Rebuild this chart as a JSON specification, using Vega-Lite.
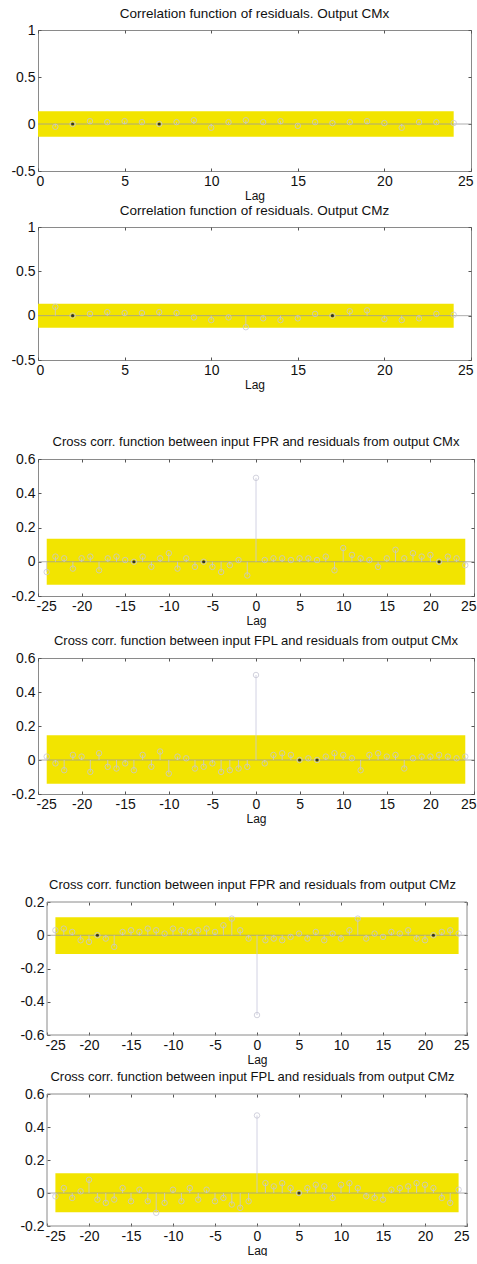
{
"$schema": "https://vega.github.io/schema/vega-lite/v6.json",
"background": "white",
"padding": {"left": 0, "top": 6, "right": 0, "bottom": 0},
"config": {
  "view": {"stroke": "#8a8a8a", "strokeWidth": 1},
  "title": {"font": "Liberation Sans", "fontSize": 13, "fontWeight": "normal", "color": "#111", "offset": 3},
  "axis": {"labelFont": "Liberation Sans", "labelFontSize": 14, "labelColor": "#111", "labelOverlap": false, "labelFlush": false, "titleFont": "Liberation Sans", "titleFontSize": 12, "titleFontWeight": "normal", "titleColor": "#111", "grid": false, "domain": false, "tickColor": "#555", "tickSize": -3, "labelPadding": 6, "titlePadding": 2, "labelExpr": "datum.value < 0 ? '-' + format(-datum.value, '~g') : format(datum.value, '~g')"},
  "axisX": {"labelFlush": true, "labelFlushOffset": 2}
},
"datasets": {
  "acf": [
    {"p":1,"lag":1,"r":-0.03,"d":0},{"p":1,"lag":2,"r":0.0,"d":1},{"p":1,"lag":3,"r":0.03,"d":0},{"p":1,"lag":4,"r":0.02,"d":0},{"p":1,"lag":5,"r":0.03,"d":0},{"p":1,"lag":6,"r":0.02,"d":0},{"p":1,"lag":7,"r":0.0,"d":1},{"p":1,"lag":8,"r":0.02,"d":0},{"p":1,"lag":9,"r":0.04,"d":0},{"p":1,"lag":10,"r":-0.04,"d":0},{"p":1,"lag":11,"r":0.02,"d":0},{"p":1,"lag":12,"r":0.04,"d":0},{"p":1,"lag":13,"r":0.02,"d":0},{"p":1,"lag":14,"r":0.03,"d":0},{"p":1,"lag":15,"r":-0.02,"d":0},{"p":1,"lag":16,"r":0.02,"d":0},{"p":1,"lag":17,"r":0.01,"d":0},{"p":1,"lag":18,"r":0.02,"d":0},{"p":1,"lag":19,"r":0.03,"d":0},{"p":1,"lag":20,"r":0.01,"d":0},{"p":1,"lag":21,"r":-0.04,"d":0},{"p":1,"lag":22,"r":0.02,"d":0},{"p":1,"lag":23,"r":0.02,"d":0},{"p":1,"lag":24,"r":0.01,"d":0},
    {"p":2,"lag":1,"r":0.1,"d":0},{"p":2,"lag":2,"r":0.0,"d":1},{"p":2,"lag":3,"r":0.02,"d":0},{"p":2,"lag":4,"r":0.04,"d":0},{"p":2,"lag":5,"r":0.03,"d":0},{"p":2,"lag":6,"r":0.03,"d":0},{"p":2,"lag":7,"r":0.04,"d":0},{"p":2,"lag":8,"r":0.03,"d":0},{"p":2,"lag":9,"r":-0.02,"d":0},{"p":2,"lag":10,"r":-0.05,"d":0},{"p":2,"lag":11,"r":-0.02,"d":0},{"p":2,"lag":12,"r":-0.13,"d":0},{"p":2,"lag":13,"r":-0.03,"d":0},{"p":2,"lag":14,"r":-0.05,"d":0},{"p":2,"lag":15,"r":-0.03,"d":0},{"p":2,"lag":16,"r":0.02,"d":0},{"p":2,"lag":17,"r":0.0,"d":1},{"p":2,"lag":18,"r":0.05,"d":0},{"p":2,"lag":19,"r":0.06,"d":0},{"p":2,"lag":20,"r":-0.04,"d":0},{"p":2,"lag":21,"r":-0.05,"d":0},{"p":2,"lag":22,"r":-0.03,"d":0},{"p":2,"lag":23,"r":0.02,"d":0},{"p":2,"lag":24,"r":0.01,"d":0},
    {"p":3,"lag":-24,"r":-0.06,"d":0},{"p":3,"lag":-23,"r":0.03,"d":0},{"p":3,"lag":-22,"r":0.02,"d":0},{"p":3,"lag":-21,"r":-0.04,"d":0},{"p":3,"lag":-20,"r":0.02,"d":0},{"p":3,"lag":-19,"r":0.03,"d":0},{"p":3,"lag":-18,"r":-0.05,"d":0},{"p":3,"lag":-17,"r":0.02,"d":0},{"p":3,"lag":-16,"r":0.03,"d":0},{"p":3,"lag":-15,"r":0.01,"d":0},{"p":3,"lag":-14,"r":0.0,"d":1},{"p":3,"lag":-13,"r":0.03,"d":0},{"p":3,"lag":-12,"r":-0.03,"d":0},{"p":3,"lag":-11,"r":0.02,"d":0},{"p":3,"lag":-10,"r":0.05,"d":0},{"p":3,"lag":-9,"r":-0.04,"d":0},{"p":3,"lag":-8,"r":0.02,"d":0},{"p":3,"lag":-7,"r":-0.03,"d":0},{"p":3,"lag":-6,"r":0.0,"d":1},{"p":3,"lag":-5,"r":-0.03,"d":0},{"p":3,"lag":-4,"r":-0.06,"d":0},{"p":3,"lag":-3,"r":-0.02,"d":0},{"p":3,"lag":-2,"r":0.01,"d":0},{"p":3,"lag":-1,"r":-0.08,"d":0},{"p":3,"lag":0,"r":0.49,"d":0},{"p":3,"lag":1,"r":0.01,"d":0},{"p":3,"lag":2,"r":0.02,"d":0},{"p":3,"lag":3,"r":0.02,"d":0},{"p":3,"lag":4,"r":0.01,"d":0},{"p":3,"lag":5,"r":0.02,"d":0},{"p":3,"lag":6,"r":0.02,"d":0},{"p":3,"lag":7,"r":0.01,"d":0},{"p":3,"lag":8,"r":0.03,"d":0},{"p":3,"lag":9,"r":-0.05,"d":0},{"p":3,"lag":10,"r":0.08,"d":0},{"p":3,"lag":11,"r":0.04,"d":0},{"p":3,"lag":12,"r":0.02,"d":0},{"p":3,"lag":13,"r":0.01,"d":0},{"p":3,"lag":14,"r":-0.03,"d":0},{"p":3,"lag":15,"r":0.02,"d":0},{"p":3,"lag":16,"r":0.07,"d":0},{"p":3,"lag":17,"r":0.02,"d":0},{"p":3,"lag":18,"r":0.05,"d":0},{"p":3,"lag":19,"r":0.03,"d":0},{"p":3,"lag":20,"r":0.04,"d":0},{"p":3,"lag":21,"r":0.0,"d":1},{"p":3,"lag":22,"r":0.03,"d":0},{"p":3,"lag":23,"r":0.02,"d":0},{"p":3,"lag":24,"r":-0.02,"d":0},
    {"p":4,"lag":-24,"r":0.02,"d":0},{"p":4,"lag":-23,"r":-0.02,"d":0},{"p":4,"lag":-22,"r":-0.06,"d":0},{"p":4,"lag":-21,"r":0.03,"d":0},{"p":4,"lag":-20,"r":0.02,"d":0},{"p":4,"lag":-19,"r":-0.07,"d":0},{"p":4,"lag":-18,"r":0.04,"d":0},{"p":4,"lag":-17,"r":-0.04,"d":0},{"p":4,"lag":-16,"r":-0.05,"d":0},{"p":4,"lag":-15,"r":-0.02,"d":0},{"p":4,"lag":-14,"r":-0.06,"d":0},{"p":4,"lag":-13,"r":0.03,"d":0},{"p":4,"lag":-12,"r":-0.04,"d":0},{"p":4,"lag":-11,"r":0.05,"d":0},{"p":4,"lag":-10,"r":-0.08,"d":0},{"p":4,"lag":-9,"r":0.02,"d":0},{"p":4,"lag":-8,"r":0.01,"d":0},{"p":4,"lag":-7,"r":-0.05,"d":0},{"p":4,"lag":-6,"r":-0.04,"d":0},{"p":4,"lag":-5,"r":-0.02,"d":0},{"p":4,"lag":-4,"r":-0.07,"d":0},{"p":4,"lag":-3,"r":-0.06,"d":0},{"p":4,"lag":-2,"r":-0.05,"d":0},{"p":4,"lag":-1,"r":-0.04,"d":0},{"p":4,"lag":0,"r":0.5,"d":0},{"p":4,"lag":1,"r":-0.02,"d":0},{"p":4,"lag":2,"r":0.03,"d":0},{"p":4,"lag":3,"r":0.04,"d":0},{"p":4,"lag":4,"r":0.03,"d":0},{"p":4,"lag":5,"r":0.0,"d":1},{"p":4,"lag":6,"r":0.01,"d":0},{"p":4,"lag":7,"r":0.0,"d":1},{"p":4,"lag":8,"r":0.02,"d":0},{"p":4,"lag":9,"r":0.04,"d":0},{"p":4,"lag":10,"r":0.03,"d":0},{"p":4,"lag":11,"r":0.01,"d":0},{"p":4,"lag":12,"r":-0.06,"d":0},{"p":4,"lag":13,"r":0.03,"d":0},{"p":4,"lag":14,"r":0.04,"d":0},{"p":4,"lag":15,"r":0.02,"d":0},{"p":4,"lag":16,"r":0.03,"d":0},{"p":4,"lag":17,"r":-0.05,"d":0},{"p":4,"lag":18,"r":0.01,"d":0},{"p":4,"lag":19,"r":0.02,"d":0},{"p":4,"lag":20,"r":0.02,"d":0},{"p":4,"lag":21,"r":0.03,"d":0},{"p":4,"lag":22,"r":0.02,"d":0},{"p":4,"lag":23,"r":0.01,"d":0},{"p":4,"lag":24,"r":0.02,"d":0},
    {"p":5,"lag":-24,"r":0.03,"d":0},{"p":5,"lag":-23,"r":0.04,"d":0},{"p":5,"lag":-22,"r":0.02,"d":0},{"p":5,"lag":-21,"r":-0.03,"d":0},{"p":5,"lag":-20,"r":-0.04,"d":0},{"p":5,"lag":-19,"r":0.0,"d":1},{"p":5,"lag":-18,"r":-0.02,"d":0},{"p":5,"lag":-17,"r":-0.07,"d":0},{"p":5,"lag":-16,"r":0.02,"d":0},{"p":5,"lag":-15,"r":0.03,"d":0},{"p":5,"lag":-14,"r":0.02,"d":0},{"p":5,"lag":-13,"r":0.04,"d":0},{"p":5,"lag":-12,"r":0.03,"d":0},{"p":5,"lag":-11,"r":0.01,"d":0},{"p":5,"lag":-10,"r":0.04,"d":0},{"p":5,"lag":-9,"r":0.03,"d":0},{"p":5,"lag":-8,"r":0.02,"d":0},{"p":5,"lag":-7,"r":0.03,"d":0},{"p":5,"lag":-6,"r":0.04,"d":0},{"p":5,"lag":-5,"r":0.02,"d":0},{"p":5,"lag":-4,"r":0.06,"d":0},{"p":5,"lag":-3,"r":0.1,"d":0},{"p":5,"lag":-2,"r":0.03,"d":0},{"p":5,"lag":-1,"r":-0.02,"d":0},{"p":5,"lag":0,"r":-0.48,"d":0},{"p":5,"lag":1,"r":-0.03,"d":0},{"p":5,"lag":2,"r":-0.02,"d":0},{"p":5,"lag":3,"r":-0.03,"d":0},{"p":5,"lag":4,"r":-0.01,"d":0},{"p":5,"lag":5,"r":0.01,"d":0},{"p":5,"lag":6,"r":-0.02,"d":0},{"p":5,"lag":7,"r":0.02,"d":0},{"p":5,"lag":8,"r":-0.03,"d":0},{"p":5,"lag":9,"r":0.01,"d":0},{"p":5,"lag":10,"r":-0.02,"d":0},{"p":5,"lag":11,"r":0.03,"d":0},{"p":5,"lag":12,"r":0.1,"d":0},{"p":5,"lag":13,"r":-0.02,"d":0},{"p":5,"lag":14,"r":0.01,"d":0},{"p":5,"lag":15,"r":-0.01,"d":0},{"p":5,"lag":16,"r":0.02,"d":0},{"p":5,"lag":17,"r":0.01,"d":0},{"p":5,"lag":18,"r":0.03,"d":0},{"p":5,"lag":19,"r":-0.02,"d":0},{"p":5,"lag":20,"r":-0.03,"d":0},{"p":5,"lag":21,"r":0.0,"d":1},{"p":5,"lag":22,"r":0.02,"d":0},{"p":5,"lag":23,"r":0.03,"d":0},{"p":5,"lag":24,"r":0.01,"d":0},
    {"p":6,"lag":-24,"r":-0.02,"d":0},{"p":6,"lag":-23,"r":0.03,"d":0},{"p":6,"lag":-22,"r":-0.03,"d":0},{"p":6,"lag":-21,"r":0.01,"d":0},{"p":6,"lag":-20,"r":0.08,"d":0},{"p":6,"lag":-19,"r":-0.04,"d":0},{"p":6,"lag":-18,"r":-0.06,"d":0},{"p":6,"lag":-17,"r":-0.04,"d":0},{"p":6,"lag":-16,"r":0.03,"d":0},{"p":6,"lag":-15,"r":-0.05,"d":0},{"p":6,"lag":-14,"r":0.02,"d":0},{"p":6,"lag":-13,"r":-0.05,"d":0},{"p":6,"lag":-12,"r":-0.12,"d":0},{"p":6,"lag":-11,"r":-0.06,"d":0},{"p":6,"lag":-10,"r":0.02,"d":0},{"p":6,"lag":-9,"r":-0.05,"d":0},{"p":6,"lag":-8,"r":0.03,"d":0},{"p":6,"lag":-7,"r":-0.04,"d":0},{"p":6,"lag":-6,"r":0.02,"d":0},{"p":6,"lag":-5,"r":-0.05,"d":0},{"p":6,"lag":-4,"r":-0.03,"d":0},{"p":6,"lag":-3,"r":-0.07,"d":0},{"p":6,"lag":-2,"r":-0.09,"d":0},{"p":6,"lag":-1,"r":-0.05,"d":0},{"p":6,"lag":0,"r":0.47,"d":0},{"p":6,"lag":1,"r":0.06,"d":0},{"p":6,"lag":2,"r":0.04,"d":0},{"p":6,"lag":3,"r":0.06,"d":0},{"p":6,"lag":4,"r":0.03,"d":0},{"p":6,"lag":5,"r":0.0,"d":1},{"p":6,"lag":6,"r":0.03,"d":0},{"p":6,"lag":7,"r":0.05,"d":0},{"p":6,"lag":8,"r":0.04,"d":0},{"p":6,"lag":9,"r":-0.03,"d":0},{"p":6,"lag":10,"r":0.05,"d":0},{"p":6,"lag":11,"r":0.06,"d":0},{"p":6,"lag":12,"r":0.03,"d":0},{"p":6,"lag":13,"r":-0.02,"d":0},{"p":6,"lag":14,"r":-0.03,"d":0},{"p":6,"lag":15,"r":-0.04,"d":0},{"p":6,"lag":16,"r":0.02,"d":0},{"p":6,"lag":17,"r":0.03,"d":0},{"p":6,"lag":18,"r":0.04,"d":0},{"p":6,"lag":19,"r":0.06,"d":0},{"p":6,"lag":20,"r":0.05,"d":0},{"p":6,"lag":21,"r":0.03,"d":0},{"p":6,"lag":22,"r":-0.03,"d":0},{"p":6,"lag":23,"r":-0.06,"d":0},{"p":6,"lag":24,"r":0.02,"d":0}
  ]
},
"columns": 1,
"align": "none",
"spacing": 44,
"concat": [
 {"columns": 1, "align": "none", "spacing": 1, "concat": [
  {"width": 433, "height": 141, "title": {"text": "Correlation function of residuals. Output CMx", "fontSize": 13.5},
   "resolve": {"axis": {"x": "independent", "y": "independent"}},
   "layer": [
    {"data": {"values": [{"x1": 0, "x2": 24, "y1": -0.135, "y2": 0.135}]}, "mark": {"type": "rect", "color": "#f2e400"},
     "encoding": {"x": {"field": "x1", "type": "quantitative", "title": "Lag", "scale": {"domain": [0, 25], "nice": false}, "axis": {"values": [0, 5, 10, 15, 20, 25], "tickCount": 12, "labelOverlap": false}}, "x2": {"field": "x2"},
      "y": {"field": "y1", "type": "quantitative", "title": null, "scale": {"domain": [-0.5, 1], "nice": false}, "axis": {"values": [-0.5, 0, 0.5, 1], "tickCount": 10, "minExtent": 37.5, "labelOverlap": false, "title": null}}, "y2": {"field": "y2"}}},
    {"data": {"values": [{"z": 0}]}, "mark": {"type": "rule", "color": "#9a9a9a", "strokeWidth": 0.8}, "encoding": {"y": {"datum": 0, "type": "quantitative", "axis": null}}},
    {"data": {"name": "acf"}, "transform": [{"filter": "datum.p == 1"}], "mark": {"type": "rule", "color": "#c6c6dc", "strokeWidth": 0.8},
     "encoding": {"x": {"field": "lag", "type": "quantitative", "axis": null}, "y": {"field": "r", "type": "quantitative", "axis": null}, "y2": {"datum": 0}}},
    {"data": {"name": "acf"}, "transform": [{"filter": "datum.p == 1"}], "mark": {"type": "point", "shape": "circle", "filled": false, "color": "#c6c6d4", "size": 30, "strokeWidth": 0.8, "opacity": 1},
     "encoding": {"x": {"field": "lag", "type": "quantitative", "axis": null}, "y": {"field": "r", "type": "quantitative", "axis": null}}},
    {"data": {"name": "acf"}, "transform": [{"filter": "datum.p == 1 && datum.d == 1"}], "mark": {"type": "point", "shape": "circle", "filled": true, "color": "#303030", "size": 10, "opacity": 1},
     "encoding": {"x": {"field": "lag", "type": "quantitative", "axis": null}, "y": {"field": "r", "type": "quantitative", "axis": null}}},
    {"data": {"values": [{"a": 0, "b": 25, "c": -0.5, "e": 1}]}, "mark": {"type": "rect", "filled": false, "strokeOpacity": 0},
     "encoding": {"x": {"field": "a", "type": "quantitative", "axis": {"orient": "top", "labels": false, "title": null, "values": [0, 5, 10, 15, 20, 25], "tickCount": 12, "minExtent": 0, "maxExtent": 0}}, "x2": {"field": "b"},
      "y": {"field": "c", "type": "quantitative", "axis": {"orient": "right", "labels": false, "title": null, "values": [-0.5, 0, 0.5, 1], "tickCount": 10, "minExtent": 0, "maxExtent": 0}}, "y2": {"field": "e"}}}
   ]},
  {"width": 433, "height": 133, "title": {"text": "Correlation function of residuals. Output CMz", "fontSize": 13.5},
   "resolve": {"axis": {"x": "independent", "y": "independent"}},
   "layer": [
    {"data": {"values": [{"x1": 0, "x2": 24, "y1": -0.135, "y2": 0.135}]}, "mark": {"type": "rect", "color": "#f2e400"},
     "encoding": {"x": {"field": "x1", "type": "quantitative", "title": "Lag", "scale": {"domain": [0, 25], "nice": false}, "axis": {"values": [0, 5, 10, 15, 20, 25], "tickCount": 12, "labelOverlap": false}}, "x2": {"field": "x2"},
      "y": {"field": "y1", "type": "quantitative", "title": null, "scale": {"domain": [-0.5, 1], "nice": false}, "axis": {"values": [-0.5, 0, 0.5, 1], "tickCount": 10, "minExtent": 37.5, "labelOverlap": false, "title": null}}, "y2": {"field": "y2"}}},
    {"data": {"values": [{"z": 0}]}, "mark": {"type": "rule", "color": "#9a9a9a", "strokeWidth": 0.8}, "encoding": {"y": {"datum": 0, "type": "quantitative", "axis": null}}},
    {"data": {"name": "acf"}, "transform": [{"filter": "datum.p == 2"}], "mark": {"type": "rule", "color": "#c6c6dc", "strokeWidth": 0.8},
     "encoding": {"x": {"field": "lag", "type": "quantitative", "axis": null}, "y": {"field": "r", "type": "quantitative", "axis": null}, "y2": {"datum": 0}}},
    {"data": {"name": "acf"}, "transform": [{"filter": "datum.p == 2"}], "mark": {"type": "point", "shape": "circle", "filled": false, "color": "#c6c6d4", "size": 30, "strokeWidth": 0.8, "opacity": 1},
     "encoding": {"x": {"field": "lag", "type": "quantitative", "axis": null}, "y": {"field": "r", "type": "quantitative", "axis": null}}},
    {"data": {"name": "acf"}, "transform": [{"filter": "datum.p == 2 && datum.d == 1"}], "mark": {"type": "point", "shape": "circle", "filled": true, "color": "#303030", "size": 10, "opacity": 1},
     "encoding": {"x": {"field": "lag", "type": "quantitative", "axis": null}, "y": {"field": "r", "type": "quantitative", "axis": null}}},
    {"data": {"values": [{"a": 0, "b": 25, "c": -0.5, "e": 1}]}, "mark": {"type": "rect", "filled": false, "strokeOpacity": 0},
     "encoding": {"x": {"field": "a", "type": "quantitative", "axis": {"orient": "top", "labels": false, "title": null, "values": [0, 5, 10, 15, 20, 25], "tickCount": 12, "minExtent": 0, "maxExtent": 0}}, "x2": {"field": "b"},
      "y": {"field": "c", "type": "quantitative", "axis": {"orient": "right", "labels": false, "title": null, "values": [-0.5, 0, 0.5, 1], "tickCount": 10, "minExtent": 0, "maxExtent": 0}}, "y2": {"field": "e"}}}
   ]}
 ]},
 {"columns": 1, "align": "none", "spacing": 54, "concat": [
  {"columns": 1, "align": "none", "spacing": 7, "concat": [
   {"width": 436, "height": 137, "title": "Cross corr. function between input FPR and residuals from output CMx",
    "resolve": {"axis": {"x": "independent", "y": "independent"}},
    "layer": [
     {"data": {"values": [{"x1": -24, "x2": 24, "y1": -0.135, "y2": 0.135}]}, "mark": {"type": "rect", "color": "#f2e400"},
      "encoding": {"x": {"field": "x1", "type": "quantitative", "title": "Lag", "scale": {"domain": [-25, 25], "nice": false}, "axis": {"values": [-25, -20, -15, -10, -5, 0, 5, 10, 15, 20, 25], "tickCount": 12, "labelOverlap": false}}, "x2": {"field": "x2"},
       "y": {"field": "y1", "type": "quantitative", "title": null, "scale": {"domain": [-0.2, 0.6], "nice": false}, "axis": {"values": [-0.2, 0, 0.2, 0.4, 0.6], "tickCount": 10, "minExtent": 37.5, "labelOverlap": false, "title": null}}, "y2": {"field": "y2"}}},
     {"data": {"values": [{"z": 0}]}, "mark": {"type": "rule", "color": "#9a9a9a", "strokeWidth": 0.8}, "encoding": {"y": {"datum": 0, "type": "quantitative", "axis": null}}},
     {"data": {"name": "acf"}, "transform": [{"filter": "datum.p == 3"}], "mark": {"type": "rule", "color": "#c6c6dc", "strokeWidth": 0.8},
      "encoding": {"x": {"field": "lag", "type": "quantitative", "axis": null}, "y": {"field": "r", "type": "quantitative", "axis": null}, "y2": {"datum": 0}}},
     {"data": {"name": "acf"}, "transform": [{"filter": "datum.p == 3"}], "mark": {"type": "point", "shape": "circle", "filled": false, "color": "#c6c6d4", "size": 30, "strokeWidth": 0.8, "opacity": 1},
      "encoding": {"x": {"field": "lag", "type": "quantitative", "axis": null}, "y": {"field": "r", "type": "quantitative", "axis": null}}},
     {"data": {"name": "acf"}, "transform": [{"filter": "datum.p == 3 && datum.d == 1"}], "mark": {"type": "point", "shape": "circle", "filled": true, "color": "#303030", "size": 10, "opacity": 1},
      "encoding": {"x": {"field": "lag", "type": "quantitative", "axis": null}, "y": {"field": "r", "type": "quantitative", "axis": null}}},
     {"data": {"values": [{"a": -25, "b": 25, "c": -0.2, "e": 0.6}]}, "mark": {"type": "rect", "filled": false, "strokeOpacity": 0},
      "encoding": {"x": {"field": "a", "type": "quantitative", "axis": {"orient": "top", "labels": false, "title": null, "values": [-25, -20, -15, -10, -5, 0, 5, 10, 15, 20, 25], "tickCount": 12, "minExtent": 0, "maxExtent": 0}}, "x2": {"field": "b"},
       "y": {"field": "c", "type": "quantitative", "axis": {"orient": "right", "labels": false, "title": null, "values": [-0.2, 0, 0.2, 0.4, 0.6], "tickCount": 10, "minExtent": 0, "maxExtent": 0}}, "y2": {"field": "e"}}}
    ]},
   {"width": 436, "height": 136, "title": "Cross corr. function between input FPL and residuals from output CMx",
    "resolve": {"axis": {"x": "independent", "y": "independent"}},
    "layer": [
     {"data": {"values": [{"x1": -24, "x2": 24, "y1": -0.14, "y2": 0.145}]}, "mark": {"type": "rect", "color": "#f2e400"},
      "encoding": {"x": {"field": "x1", "type": "quantitative", "title": "Lag", "scale": {"domain": [-25, 25], "nice": false}, "axis": {"values": [-25, -20, -15, -10, -5, 0, 5, 10, 15, 20, 25], "tickCount": 12, "labelOverlap": false}}, "x2": {"field": "x2"},
       "y": {"field": "y1", "type": "quantitative", "title": null, "scale": {"domain": [-0.2, 0.6], "nice": false}, "axis": {"values": [-0.2, 0, 0.2, 0.4, 0.6], "tickCount": 10, "minExtent": 37.5, "labelOverlap": false, "title": null}}, "y2": {"field": "y2"}}},
     {"data": {"values": [{"z": 0}]}, "mark": {"type": "rule", "color": "#9a9a9a", "strokeWidth": 0.8}, "encoding": {"y": {"datum": 0, "type": "quantitative", "axis": null}}},
     {"data": {"name": "acf"}, "transform": [{"filter": "datum.p == 4"}], "mark": {"type": "rule", "color": "#c6c6dc", "strokeWidth": 0.8},
      "encoding": {"x": {"field": "lag", "type": "quantitative", "axis": null}, "y": {"field": "r", "type": "quantitative", "axis": null}, "y2": {"datum": 0}}},
     {"data": {"name": "acf"}, "transform": [{"filter": "datum.p == 4"}], "mark": {"type": "point", "shape": "circle", "filled": false, "color": "#c6c6d4", "size": 30, "strokeWidth": 0.8, "opacity": 1},
      "encoding": {"x": {"field": "lag", "type": "quantitative", "axis": null}, "y": {"field": "r", "type": "quantitative", "axis": null}}},
     {"data": {"name": "acf"}, "transform": [{"filter": "datum.p == 4 && datum.d == 1"}], "mark": {"type": "point", "shape": "circle", "filled": true, "color": "#303030", "size": 10, "opacity": 1},
      "encoding": {"x": {"field": "lag", "type": "quantitative", "axis": null}, "y": {"field": "r", "type": "quantitative", "axis": null}}},
     {"data": {"values": [{"a": -25, "b": 25, "c": -0.2, "e": 0.6}]}, "mark": {"type": "rect", "filled": false, "strokeOpacity": 0},
      "encoding": {"x": {"field": "a", "type": "quantitative", "axis": {"orient": "top", "labels": false, "title": null, "values": [-25, -20, -15, -10, -5, 0, 5, 10, 15, 20, 25], "tickCount": 12, "minExtent": 0, "maxExtent": 0}}, "x2": {"field": "b"},
       "y": {"field": "c", "type": "quantitative", "axis": {"orient": "right", "labels": false, "title": null, "values": [-0.2, 0, 0.2, 0.4, 0.6], "tickCount": 10, "minExtent": 0, "maxExtent": 0}}, "y2": {"field": "e"}}}
    ]}
  ]},
  {"columns": 1, "align": "none", "spacing": 6, "concat": [
   {"width": 429, "height": 133, "view": {"stroke": null}, "title": "Cross corr. function between input FPR and residuals from output CMz",
    "resolve": {"axis": {"x": "independent", "y": "independent"}},
    "layer": [
     {"data": {"values": [{"x1": -24, "x2": 24, "y1": -0.113, "y2": 0.108}]}, "mark": {"type": "rect", "color": "#f2e400"},
      "encoding": {"x": {"field": "x1", "type": "quantitative", "title": "Lag", "scale": {"domain": [-25, 25], "nice": false, "range": [9, 429]}, "axis": {"values": [-25, -20, -15, -10, -5, 0, 5, 10, 15, 20, 25], "tickCount": 12, "labelOverlap": false}}, "x2": {"field": "x2"},
       "y": {"field": "y1", "type": "quantitative", "title": null, "scale": {"domain": [-0.6, 0.2], "nice": false}, "axis": {"values": [-0.6, -0.4, -0.2, 0, 0.2], "tickCount": 10, "minExtent": 37.5, "offset": -9, "labelOverlap": false, "title": null}}, "y2": {"field": "y2"}}},
     {"data": {"values": [{"a": -25, "b": 25}]}, "mark": {"type": "rule", "color": "#9a9a9a", "strokeWidth": 0.8}, "encoding": {"x": {"field": "a", "type": "quantitative", "axis": null}, "x2": {"field": "b"}, "y": {"datum": 0, "type": "quantitative", "axis": null}}},
     {"data": {"name": "acf"}, "transform": [{"filter": "datum.p == 5"}], "mark": {"type": "rule", "color": "#c6c6dc", "strokeWidth": 0.8},
      "encoding": {"x": {"field": "lag", "type": "quantitative", "axis": null}, "y": {"field": "r", "type": "quantitative", "axis": null}, "y2": {"datum": 0}}},
     {"data": {"name": "acf"}, "transform": [{"filter": "datum.p == 5"}], "mark": {"type": "point", "shape": "circle", "filled": false, "color": "#c6c6d4", "size": 30, "strokeWidth": 0.8, "opacity": 1},
      "encoding": {"x": {"field": "lag", "type": "quantitative", "axis": null}, "y": {"field": "r", "type": "quantitative", "axis": null}}},
     {"data": {"name": "acf"}, "transform": [{"filter": "datum.p == 5 && datum.d == 1"}], "mark": {"type": "point", "shape": "circle", "filled": true, "color": "#303030", "size": 10, "opacity": 1},
      "encoding": {"x": {"field": "lag", "type": "quantitative", "axis": null}, "y": {"field": "r", "type": "quantitative", "axis": null}}},
     {"data": {"values": [{"a": -25, "b": 25, "c": -0.6, "e": 0.2}]}, "mark": {"type": "rect", "filled": false, "stroke": "#8a8a8a", "strokeWidth": 1},
      "encoding": {"x": {"field": "a", "type": "quantitative", "axis": {"orient": "top", "labels": false, "title": null, "values": [-25, -20, -15, -10, -5, 0, 5, 10, 15, 20, 25], "tickCount": 12, "minExtent": 0, "maxExtent": 0}}, "x2": {"field": "b"},
       "y": {"field": "c", "type": "quantitative", "axis": {"orient": "right", "labels": false, "title": null, "values": [-0.6, -0.4, -0.2, 0, 0.2], "tickCount": 10, "minExtent": 0, "maxExtent": 0}}, "y2": {"field": "e"}}}
    ]},
   {"width": 429, "height": 132, "view": {"stroke": null}, "title": "Cross corr. function between input FPL and residuals from output CMz",
    "resolve": {"axis": {"x": "independent", "y": "independent"}},
    "layer": [
     {"data": {"values": [{"x1": -24, "x2": 24, "y1": -0.116, "y2": 0.12}]}, "mark": {"type": "rect", "color": "#f2e400"},
      "encoding": {"x": {"field": "x1", "type": "quantitative", "title": "Lag", "scale": {"domain": [-25, 25], "nice": false, "range": [9, 429]}, "axis": {"values": [-25, -20, -15, -10, -5, 0, 5, 10, 15, 20, 25], "tickCount": 12, "labelOverlap": false}}, "x2": {"field": "x2"},
       "y": {"field": "y1", "type": "quantitative", "title": null, "scale": {"domain": [-0.2, 0.6], "nice": false}, "axis": {"values": [-0.2, 0, 0.2, 0.4, 0.6], "tickCount": 10, "minExtent": 37.5, "offset": -9, "labelOverlap": false, "title": null}}, "y2": {"field": "y2"}}},
     {"data": {"values": [{"a": -25, "b": 25}]}, "mark": {"type": "rule", "color": "#9a9a9a", "strokeWidth": 0.8}, "encoding": {"x": {"field": "a", "type": "quantitative", "axis": null}, "x2": {"field": "b"}, "y": {"datum": 0, "type": "quantitative", "axis": null}}},
     {"data": {"name": "acf"}, "transform": [{"filter": "datum.p == 6"}], "mark": {"type": "rule", "color": "#c6c6dc", "strokeWidth": 0.8},
      "encoding": {"x": {"field": "lag", "type": "quantitative", "axis": null}, "y": {"field": "r", "type": "quantitative", "axis": null}, "y2": {"datum": 0}}},
     {"data": {"name": "acf"}, "transform": [{"filter": "datum.p == 6"}], "mark": {"type": "point", "shape": "circle", "filled": false, "color": "#c6c6d4", "size": 30, "strokeWidth": 0.8, "opacity": 1},
      "encoding": {"x": {"field": "lag", "type": "quantitative", "axis": null}, "y": {"field": "r", "type": "quantitative", "axis": null}}},
     {"data": {"name": "acf"}, "transform": [{"filter": "datum.p == 6 && datum.d == 1"}], "mark": {"type": "point", "shape": "circle", "filled": true, "color": "#303030", "size": 10, "opacity": 1},
      "encoding": {"x": {"field": "lag", "type": "quantitative", "axis": null}, "y": {"field": "r", "type": "quantitative", "axis": null}}},
     {"data": {"values": [{"a": -25, "b": 25, "c": -0.2, "e": 0.6}]}, "mark": {"type": "rect", "filled": false, "stroke": "#8a8a8a", "strokeWidth": 1},
      "encoding": {"x": {"field": "a", "type": "quantitative", "axis": {"orient": "top", "labels": false, "title": null, "values": [-25, -20, -15, -10, -5, 0, 5, 10, 15, 20, 25], "tickCount": 12, "minExtent": 0, "maxExtent": 0}}, "x2": {"field": "b"},
       "y": {"field": "c", "type": "quantitative", "axis": {"orient": "right", "labels": false, "title": null, "values": [-0.2, 0, 0.2, 0.4, 0.6], "tickCount": 10, "minExtent": 0, "maxExtent": 0}}, "y2": {"field": "e"}}}
    ]}
  ]}
 ]}
]
}
